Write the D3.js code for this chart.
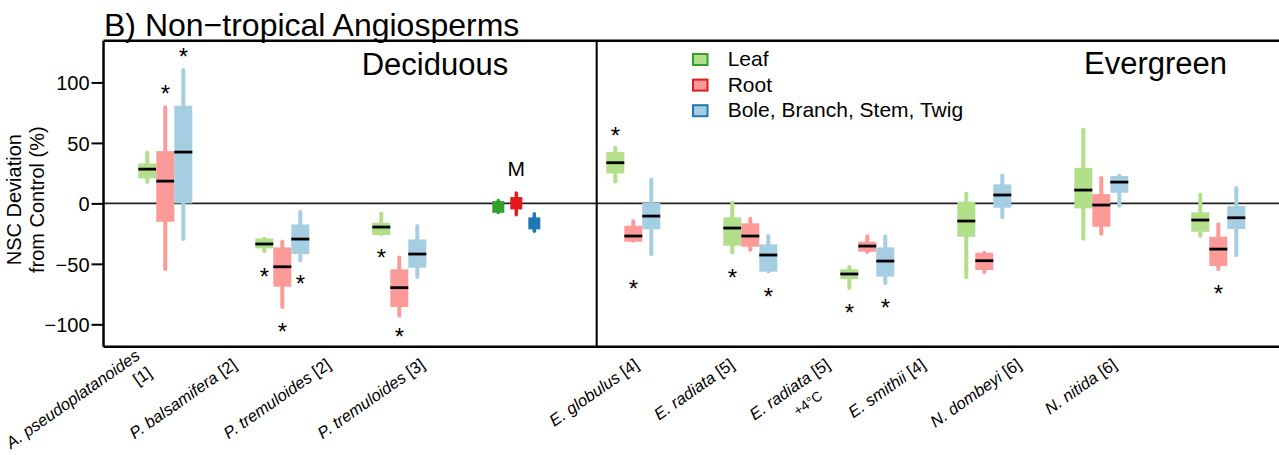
<!DOCTYPE html>
<html>
<head>
<meta charset="utf-8">
<script src="https://cdn.jsdelivr.net/npm/d3@7"></script>
<style>
  body { margin: 0; background: #fff; }
  text { font-family: "Liberation Sans", Arial, sans-serif; }
</style>
</head>
<body>
<div class="chart"></div>
<script>
// species and study reference
var species = ['A. pseudoplatanoides', 'P. balsamifera', 'P. tremuloides', 'P. tremuloides',
    'E. globulus', 'E. radiata', 'E. radiata', 'E. smithii', 'N. dombeyi', 'N. nitida'];
var refs = ['[1]', '[2]', '[2]', '[3]', '[4]', '[5]', '[5]', '[4]', '[6]', '[6]'];
var notes = ['', '', '', '', '', '', '+4°C', '', '', ''];
var tissues = ['Leaf', 'Root', 'Bole, Branch, Stem, Twig'];
var yTicks = [-100, -50, 0, 50, 100];

// [low, q1, median, q3, high] per species
var leafStats = [
    [16, 20.7, 28.3, 33, 43.5], [-41.3, -37.2, -33.6, -29, -27.6], [-27, -26.2, -19.6, -16, -6.9],
    [-9.1, -7.8, -3, 1.9, 4.1], [16.5, 24.8, 33.6, 42.4, 47.6], [-42, -35, -20.4, -11.6, 2.2],
    [-71.7, -62.6, -58.4, -54.5, -51], [-62.8, -27.6, -14.6, 1.3, 9.6], [-30.9, -4.1, 11, 29.4, 62.5],
    [-28.4, -23.5, -13.8, -7.4, 8.8]
];
var rootStats = [
    [-56, -15.2, 18.4, 43.2, 81.2], [-87.4, -68.9, -52.4, -36.4, -29.8], [-94.5, -85.7, -69.7, -54.5, -43],
    [-11, -5, 0, 5.2, 10.2], [-32.6, -31.7, -27, -18.5, -13.2], [-40, -35.8, -27, -16.5, -11],
    [-41.9, -40, -35.3, -31.7, -25.6], [-58.4, -55.1, -47.4, -40.8, -39.2], [-26.8, -19.3, -1.4, 7.7, 22.6],
    [-56, -51.8, -37.8, -27.6, -15.7]
];
var boleStats = [
    [-31.2, 0, 42.4, 80.7, 112], [-48.8, -41.9, -29.5, -17.4, -5.5], [-62.6, -53.2, -41.9, -29.8, -17.1],
    [-24.8, -21.5, -16, -11.6, -6.9], [-43.6, -21.5, -10.5, 0.5, 21.2], [-57.9, -56.5, -42.7, -33.9, -25.4],
    [-67.5, -60.6, -47.7, -36.4, -25.6], [-13.2, -3.6, 6.9, 15.7, 24.8], [-3.6, 8.8, 17.6, 22.6, 24.8],
    [-44.6, -21.2, -11.9, -2.2, 14.3]
];
// significance stars: [species index (1-based), tissue, value]
var stars = [
    [1, 'Root', 94.2], [1, 'Bole, Branch, Stem, Twig', 125.3],
    [2, 'Leaf', -56.5], [2, 'Bole, Branch, Stem, Twig', -62.6], [2, 'Root', -102],
    [3, 'Leaf', -41.3], [3, 'Root', -106],
    [5, 'Leaf', 59.8], [5, 'Root', -66.7],
    [6, 'Leaf', -57.9], [6, 'Bole, Branch, Stem, Twig', -73],
    [7, 'Leaf', -86.8], [7, 'Bole, Branch, Stem, Twig', -82.1],
    [10, 'Root', -71.1]
];
var mGroup = 4; // model-based estimate, drawn in dark colours

var lightColors = { 'Leaf': '#b2df8a', 'Root': '#fb9a99', 'Bole, Branch, Stem, Twig': '#a6cee3' };
var darkColors = { 'Leaf': '#33a02c', 'Root': '#e31a1c', 'Bole, Branch, Stem, Twig': '#1f78b4' };

var W = 1279, H = 455;
var svg = d3.select('.chart').append('svg')
    .attr('width', W).attr('height', H);

var x = d3.scaleLinear().domain([1, 10]).range([165.3, 1218.3]);
var y = d3.scaleLinear().domain([-118.5, 134.5]).range([346.7, 40.7]);
var sub = d3.scaleBand().domain(tissues).range([-27, 27]);
var pLeft = x(0.472), pRight = x(10.53), pTop = y.range()[1], pBottom = y.range()[0];

// zero line
svg.append('line')
    .attr('x1', pLeft).attr('x2', pRight)
    .attr('y1', y(0)).attr('y2', y(0))
    .attr('stroke', '#222').attr('stroke-width', 1.6);

// boxes
var rows = [];
tissues.forEach(function (t, ti) {
    var stats = [leafStats, rootStats, boleStats][ti];
    stats.forEach(function (s, i) {
        rows.push({ g: i + 1, t: t, low: s[0], q1: s[1], med: s[2], q3: s[3], high: s[4] });
    });
});

var boxes = svg.selectAll('.box').data(rows).enter()
    .append('g')
    .attr('class', 'box')
    .attr('transform', d => `translate(${x(d.g) + sub(d.t) + sub.bandwidth() / 2}, 0)`);

boxes.append('line')
    .attr('y1', d => y(d.high) + 2).attr('y2', d => y(d.low) - 2)
    .attr('stroke', d => d.g === mGroup ? darkColors[d.t] : lightColors[d.t])
    .attr('stroke-width', d => d.g === mGroup ? 3.5 : 4)
    .attr('stroke-linecap', 'round');

boxes.append('rect')
    .attr('x', d => d.g === mGroup ? -6 : -9)
    .attr('width', d => d.g === mGroup ? 12 : 18)
    .attr('y', d => y(d.q3))
    .attr('height', d => y(d.q1) - y(d.q3))
    .attr('fill', d => d.g === mGroup ? darkColors[d.t] : lightColors[d.t]);

boxes.filter(d => d.g !== mGroup).append('line')
    .attr('x1', -9).attr('x2', 9)
    .attr('y1', d => y(d.med)).attr('y2', d => y(d.med))
    .attr('stroke', '#000').attr('stroke-width', 2.8);

// stars
svg.selectAll('.star').data(stars).enter()
    .append('text')
    .attr('class', 'star')
    .attr('x', d => x(d[0]) + sub(d[1]) + sub.bandwidth() / 2)
    .attr('y', d => y(d[2]) + 13)
    .attr('text-anchor', 'middle')
    .style('font-size', '24px')
    .text('*');

svg.append('text')
    .attr('x', x(mGroup)).attr('y', y(23))
    .attr('text-anchor', 'middle')
    .style('font-size', '21px')
    .text('M');

// frame
var frame = svg.append('g').attr('stroke', '#000').attr('stroke-width', 2.5);
frame.append('line').attr('x1', pLeft).attr('x2', pLeft).attr('y1', pTop).attr('y2', pBottom);
frame.append('line').attr('x1', pLeft).attr('x2', pRight).attr('y1', pTop).attr('y2', pTop);
frame.append('line').attr('x1', pLeft).attr('x2', pRight).attr('y1', pBottom).attr('y2', pBottom);
frame.append('line').attr('x1', pRight).attr('x2', pRight).attr('y1', pTop).attr('y2', pBottom);
svg.append('line')
    .attr('x1', x(4.687)).attr('x2', x(4.687))
    .attr('y1', pTop).attr('y2', pBottom)
    .attr('stroke', '#000').attr('stroke-width', 2);

// y axis
var yAxis = d3.axisLeft(y).tickValues(yTicks).tickSize(12).tickPadding(2)
    .tickFormat(d => d < 0 ? '\u2212' + Math.abs(d) : d);
var ya = svg.append('g')
    .attr('transform', `translate(${pLeft}, 0)`)
    .call(yAxis);
ya.select('.domain').remove();
ya.selectAll('.tick line').attr('stroke', '#000').attr('stroke-width', 2);
ya.selectAll('.tick text')
    .style('font-size', '20px').style('font-family', '"Liberation Sans", Arial, sans-serif')
    .attr('fill', '#000').attr('dy', '0.36em');

var yTitle = svg.append('text')
    .attr('transform', `translate(21, ${(pTop + pBottom) / 2 + 6}) rotate(-90)`)
    .attr('text-anchor', 'middle')
    .style('font-size', '20px');
yTitle.append('tspan').attr('x', 0).attr('y', 0).text('NSC Deviation');
yTitle.append('tspan').attr('x', 0).attr('y', 23).text('from Control (%)');

// x labels
var labDec = d3.scaleLinear().domain([1, 4]).range([144, 426]);
var labEver = d3.scaleLinear().domain([5, 10]).range([640, 1118]);
species.forEach(function (s, i) {
    var g = i + 1;
    var lx = g <= 4 ? labDec(g) : labEver(g);
    var lab = svg.append('g')
        .attr('transform', `translate(${lx}, 367) rotate(-35)`);
    if (s.length > 16) {
        lab.append('text').attr('text-anchor', 'end')
            .attr('x', 2.6).attr('y', -9)
            .style('font-size', '16.5px').style('font-style', 'italic').text(s);
        lab.append('text').attr('text-anchor', 'end')
            .attr('x', 2.6).attr('y', 12)
            .style('font-size', '16.5px').text(refs[i]);
    } else {
        var t = lab.append('text')
            .attr('text-anchor', 'end')
            .style('font-size', '16.5px');
        t.append('tspan').style('font-style', 'italic').text(s);
        t.append('tspan').text(' ' + refs[i]);
    }
    if (notes[i]) {
        lab.append('text').attr('text-anchor', 'end')
            .attr('x', -24).attr('y', 21)
            .style('font-size', '14px').text(notes[i]);
    }
});

// headings
svg.append('text').attr('x', 104).attr('y', 36)
    .style('font-size', '32px').text('B) Non\u2212tropical Angiosperms');
svg.append('text').attr('x', x(3.305)).attr('y', 75)
    .attr('text-anchor', 'middle')
    .style('font-size', '31px').text('Deciduous');
svg.append('text').attr('x', 1227).attr('y', 74)
    .attr('text-anchor', 'end')
    .style('font-size', '31px').text('Evergreen');

// legend
var legend = svg.selectAll('.legend').data(tissues).enter()
    .append('g')
    .attr('class', 'legend')
    .attr('transform', (d, i) => `translate(692, ${53 + i * 25.6})`);
legend.append('rect')
    .attr('x', 1).attr('y', 1).attr('width', 14.5).attr('height', 11)
    .attr('fill', d => lightColors[d])
    .attr('stroke', d => darkColors[d]).attr('stroke-width', 2);
legend.append('text')
    .attr('x', 35.7).attr('y', 13)
    .style('font-size', '21px')
    .text(d => d);
</script>
</body>
</html>
